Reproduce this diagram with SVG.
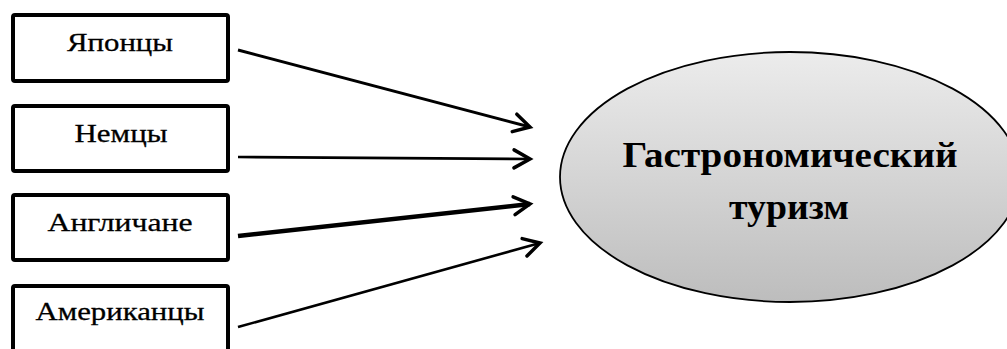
<svg xmlns="http://www.w3.org/2000/svg" width="1007" height="349" viewBox="0 0 1007 349">
  <defs>
    <linearGradient id="ellGrad" x1="0" y1="0" x2="0" y2="1">
      <stop offset="0" stop-color="#ececec"/>
      <stop offset="1" stop-color="#bdbdbd"/>
    </linearGradient>
    <marker id="openArrow" markerUnits="userSpaceOnUse" markerWidth="24" markerHeight="24" refX="0" refY="0" viewBox="-20 -12 24 24" orient="auto" overflow="visible">
      <path d="M-16,-9 L0,0 L-16,9" fill="none" stroke="#000" stroke-width="3.5" stroke-linecap="round" stroke-linejoin="miter"/>
    </marker>
  </defs>
  <style>
    .box { fill: #fff; stroke: #000; stroke-width: 4; }
    .lbl { font-family: "Liberation Serif", "Times New Roman", serif; font-size: 26px; fill: #000; stroke: #000; stroke-width: 0.3; text-anchor: middle; }
    .title { font-family: "Liberation Serif", "Times New Roman", serif; font-size: 35px; font-weight: bold; fill: #000; text-anchor: middle; }
    .conn { fill: none; stroke: #000; marker-end: url(#openArrow); }
  </style>
  <rect width="1007" height="349" fill="#fff"/>

  <g id="node-japanese">
    <rect class="box" x="13" y="15" width="215" height="66" rx="2"/>
    <text class="lbl" x="120" y="51" textLength="106" lengthAdjust="spacingAndGlyphs">Японцы</text>
  </g>
  <g id="node-germans">
    <rect class="box" x="13" y="106" width="215" height="65" rx="2"/>
    <text class="lbl" x="121" y="142" textLength="93" lengthAdjust="spacingAndGlyphs">Немцы</text>
  </g>
  <g id="node-english">
    <rect class="box" x="13" y="195" width="215" height="65" rx="2"/>
    <text class="lbl" x="120" y="231" textLength="145" lengthAdjust="spacingAndGlyphs">Англичане</text>
  </g>
  <g id="node-americans">
    <rect class="box" x="13" y="286" width="215" height="80" rx="2"/>
    <text class="lbl" x="120" y="320" textLength="169" lengthAdjust="spacingAndGlyphs">Американцы</text>
  </g>

  <g id="node-tourism">
    <ellipse cx="790" cy="177" rx="230" ry="125" fill="url(#ellGrad)" stroke="#000" stroke-width="1.8"/>
    <text class="title" x="790" y="167" textLength="335" lengthAdjust="spacingAndGlyphs">Гастрономический</text>
    <text class="title" x="789" y="219" textLength="120" lengthAdjust="spacingAndGlyphs">туризм</text>
  </g>

  <g id="connectors">
    <line class="conn" x1="238" y1="50" x2="530" y2="127" stroke-width="3"/>
    <line class="conn" x1="238" y1="157" x2="530" y2="159" stroke-width="2.6"/>
    <line class="conn" x1="238" y1="236" x2="530" y2="204" stroke-width="4.5"/>
    <line class="conn" x1="238" y1="327" x2="540" y2="243" stroke-width="2.6"/>
  </g>
</svg>
